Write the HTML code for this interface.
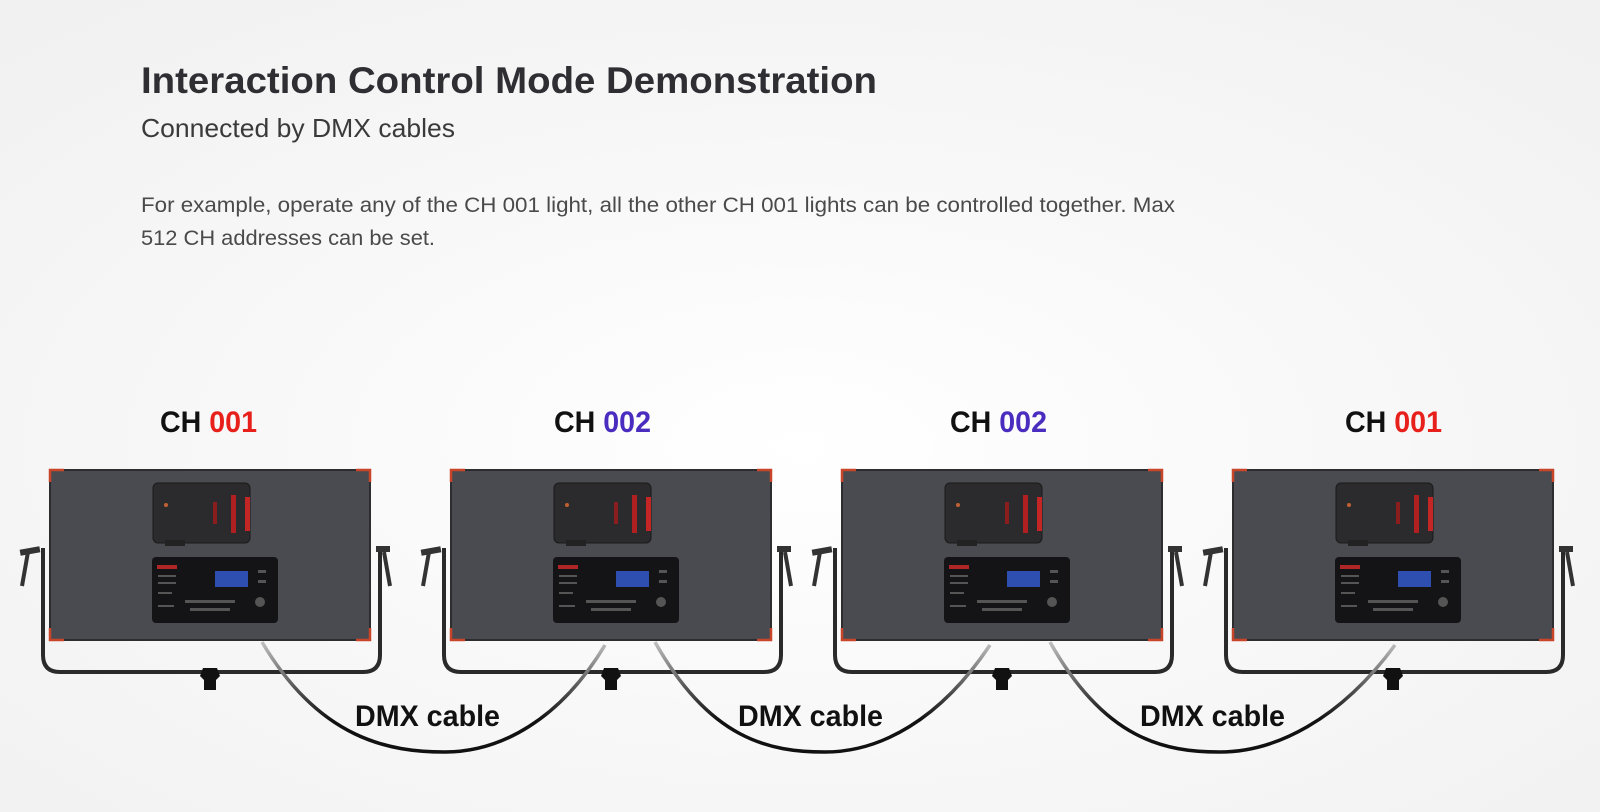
<!DOCTYPE html>
<html><head><meta charset="utf-8"><style>
html,body{margin:0;padding:0;width:1600px;height:812px;overflow:hidden;background:#f8f8f8}
svg{display:block}
text{font-family:"Liberation Sans",sans-serif}
</style></head><body>
<svg width="1600" height="812" viewBox="0 0 1600 812" xmlns="http://www.w3.org/2000/svg">
<defs>
<radialGradient id="bg" cx="50%" cy="55%" r="70%">
<stop offset="0" stop-color="#ffffff"/><stop offset="1" stop-color="#f1f1f1"/></radialGradient>
<linearGradient id="cab" gradientUnits="userSpaceOnUse" x1="0" y1="640" x2="0" y2="720">
<stop offset="0" stop-color="#c4c4c4"/><stop offset="0.6" stop-color="#555"/><stop offset="1" stop-color="#111"/></linearGradient>
<g id="lamp">
<path d="M-7 548 L-7 655 Q-7 672 10 672 L313 672 Q330 672 330 655 L330 548" fill="none" stroke="#2a2a2a" stroke-width="4"/>
<rect x="-30" y="548" width="20" height="6" fill="#333" transform="rotate(-10 -20 551)"/>
<path d="M-22 552 L-28 586" stroke="#333" stroke-width="4"/>
<path d="M334 552 L340 586" stroke="#333" stroke-width="4"/>
<rect x="326" y="546" width="14" height="6" fill="#333"/>
<path d="M153 668 L167 668 L170 676 L166 680 L166 690 L154 690 L154 680 L150 676 Z" fill="#111"/>
<rect x="0" y="470" width="320" height="170" fill="#4a4b50" stroke="#2d2d30" stroke-width="2"/>
<path d="M0 482 L0 470 L14 470" fill="none" stroke="#c8452a" stroke-width="2.5"/>
<path d="M306 470 L320 470 L320 482" fill="none" stroke="#c8452a" stroke-width="2.5"/>
<path d="M0 628 L0 640 L14 640" fill="none" stroke="#c8452a" stroke-width="2.5"/>
<path d="M306 640 L320 640 L320 628" fill="none" stroke="#c8452a" stroke-width="2.5"/>
<rect x="103" y="483" width="97" height="60" rx="5" fill="#2b2b2e" stroke="#1a1a1a"/>
<rect x="115" y="540" width="20" height="6" fill="#222"/>
<rect x="181" y="495" width="5" height="38" fill="#b02020"/>
<rect x="195" y="497" width="5" height="34" fill="#c42525"/>
<rect x="163" y="502" width="4" height="22" fill="#8a1e1e"/>
<circle cx="116" cy="505" r="2" fill="#c06030"/>
<rect x="102" y="557" width="126" height="66" rx="4" fill="#141416"/>
<rect x="107" y="565" width="20" height="4" fill="#b02525"/>
<rect x="165" y="571" width="33" height="16" fill="#2f4fb0"/>
<g fill="#555"><rect x="108" y="575" width="18" height="2"/><rect x="108" y="582" width="18" height="2"/><rect x="108" y="592" width="14" height="2"/><rect x="108" y="605" width="16" height="2"/><rect x="135" y="600" width="50" height="3"/><rect x="140" y="608" width="40" height="3"/><rect x="208" y="570" width="8" height="3"/><rect x="208" y="580" width="8" height="3"/><circle cx="210" cy="602" r="5"/></g>
</g>
</defs>
<rect width="1600" height="812" fill="url(#bg)"/>
<text x="141" y="93" font-size="37" font-weight="bold" fill="#2e2e33" textLength="736" lengthAdjust="spacingAndGlyphs">Interaction Control Mode Demonstration</text>
<text x="141" y="137" font-size="26" fill="#3a3a3a" textLength="314" lengthAdjust="spacingAndGlyphs">Connected by DMX cables</text>
<text x="141" y="212" font-size="21" fill="#4a4a4a" textLength="1034" lengthAdjust="spacingAndGlyphs">For example, operate any of the CH 001 light, all the other CH 001 lights can be controlled together. Max</text>
<text x="141" y="245" font-size="21" fill="#4a4a4a" textLength="294" lengthAdjust="spacingAndGlyphs">512 CH addresses can be set.</text>

<use href="#lamp" x="50"/>
<use href="#lamp" x="451"/>
<use href="#lamp" x="842"/>
<use href="#lamp" x="1233"/>

<g fill="none" stroke-width="3.5" stroke="url(#cab)">
<path d="M262 642 C320 740 390 752 445 752 C500 752 560 720 605 645"/>
<path d="M655 642 C710 740 770 752 825 752 C880 752 940 720 990 645"/>
<path d="M1050 642 C1105 740 1165 752 1220 752 C1275 752 1340 720 1395 645"/>
</g>

<g font-size="30" font-weight="bold">
<text x="160" y="432" textLength="97" lengthAdjust="spacingAndGlyphs"><tspan fill="#111">CH </tspan><tspan fill="#e8201c">001</tspan></text>
<text x="554" y="432" textLength="97" lengthAdjust="spacingAndGlyphs"><tspan fill="#111">CH </tspan><tspan fill="#4a2dbf">002</tspan></text>
<text x="950" y="432" textLength="97" lengthAdjust="spacingAndGlyphs"><tspan fill="#111">CH </tspan><tspan fill="#4a2dbf">002</tspan></text>
<text x="1345" y="432" textLength="97" lengthAdjust="spacingAndGlyphs"><tspan fill="#111">CH </tspan><tspan fill="#e8201c">001</tspan></text>
<g fill="#111">
<text x="355" y="726" textLength="145" lengthAdjust="spacingAndGlyphs">DMX cable</text>
<text x="738" y="726" textLength="145" lengthAdjust="spacingAndGlyphs">DMX cable</text>
<text x="1140" y="726" textLength="145" lengthAdjust="spacingAndGlyphs">DMX cable</text>
</g>
</g>
</svg>
</body></html>
